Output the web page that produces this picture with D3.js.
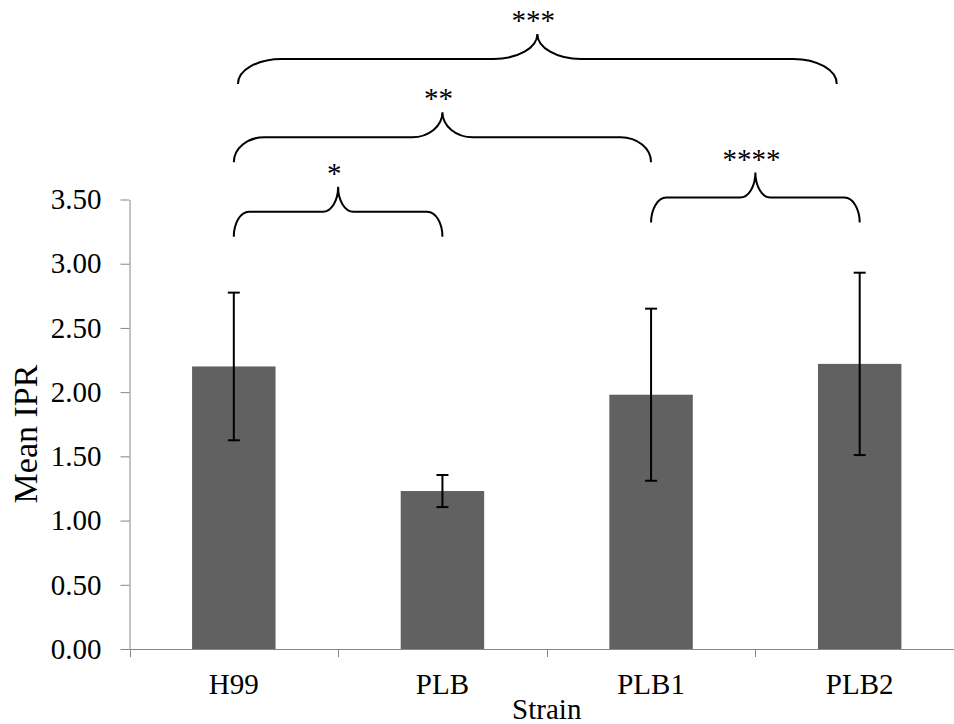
<!DOCTYPE html>
<html>
<head>
<meta charset="utf-8">
<script src="https://cdn.jsdelivr.net/npm/d3@7"></script>
<style>
	body { margin: 0; background: #fff; }
	svg { display: block; }
	svg text { font-family: 'Liberation Serif', 'Times New Roman', Times, Tinos, 'DejaVu Serif', serif; }
</style>
</head>
<body>
<svg id="chart" width="954" height="724"></svg>
<script>
// data
var strains = ['H99', 'PLB', 'PLB1', 'PLB2']
var meanIPR = [2.20, 1.23, 1.98, 2.22]
var errIPR = [0.575, 0.125, 0.67, 0.71]
var yTicks = [0, 0.5, 1, 1.5, 2, 2.5, 3, 3.5]

// significance braces: span in category index units, foot height in axis units
var braceSpans = [[0, 1], [0, 2], [0.02, 2.89], [2, 3]]
var braceFeet = [3.21, 3.79, 4.40, 3.32]
var braceLabels = ['*', '**', '***', '****']

var chart = {}
chart.axis_colour = '#868686'
chart.bar_colour = '#616161'
chart.left = 129.5
chart.bottom = 649
chart.top = 199.5

var svg = d3.select('#chart')

var x = d3.scaleBand()
	.domain(strains)
	.range([chart.left, 964])
	.paddingInner(0.6)
	.paddingOuter(0.3)

var y = d3.scaleLinear()
	.domain([0, 3.5])
	.range([chart.bottom, chart.top])

var rows = strains.map(function(s, i) {
	return {name: s, mean: meanIPR[i], err: errIPR[i]}
})

// bars
svg.append('g')
	.selectAll('rect')
	.data(rows)
	.enter()
	.append('rect')
	.attr('x', function(d) { return x(d.name) })
	.attr('y', function(d) { return y(d.mean) })
	.attr('width', x.bandwidth())
	.attr('height', function(d) { return y(0) - y(d.mean) })
	.attr('fill', chart.bar_colour)

// y axis
var yAxis = svg.append('g')
	.attr('transform', 'translate(' + chart.left + ',0)')
	.call(d3.axisLeft(y)
		.tickValues(yTicks)
		.tickFormat(d3.format('.2f'))
		.tickSize(9)
		.tickSizeOuter(0)
		.tickPadding(19))
yAxis.attr('font-family', null)
yAxis.select('.domain').attr('stroke', chart.axis_colour)
yAxis.selectAll('.tick line').attr('stroke', chart.axis_colour)
yAxis.selectAll('.tick text')
	.style('font-size', '29px')
	.attr('fill', '#000')

// x axis: labels at band centres, ticks on band edges
var xAxis = svg.append('g')
	.attr('transform', 'translate(0,' + chart.bottom + ')')
	.call(d3.axisBottom(x).tickSize(0).tickPadding(24))
xAxis.attr('font-family', null)
xAxis.select('.domain').remove()
xAxis.selectAll('.tick text')
	.style('font-size', '29px')
	.attr('fill', '#000')

svg.append('line')
	.attr('x1', chart.left)
	.attr('x2', 954)
	.attr('y1', chart.bottom + 0.5)
	.attr('y2', chart.bottom + 0.5)
	.attr('stroke', chart.axis_colour)

var edges = strains.map(function(s) {
	return x(s) - x.step() * x.paddingOuter()
})
svg.append('g')
	.selectAll('line')
	.data(edges)
	.enter()
	.append('line')
	.attr('x1', function(d) { return Math.round(d) + 0.5 })
	.attr('x2', function(d) { return Math.round(d) + 0.5 })
	.attr('y1', chart.bottom)
	.attr('y2', chart.bottom + 8)
	.attr('stroke', chart.axis_colour)

// error bars
var err = svg.append('g')
	.attr('stroke', '#000')
	.attr('stroke-width', 2)
	.attr('fill', 'none')
rows.forEach(function(d) {
	var cx = x(d.name) + x.bandwidth() / 2
	var hi = y(d.mean + d.err), lo = y(d.mean - d.err)
	err.append('line').attr('x1', cx).attr('x2', cx).attr('y1', hi).attr('y2', lo)
	err.append('line').attr('x1', cx - 6).attr('x2', cx + 6).attr('y1', hi).attr('y2', hi)
	err.append('line').attr('x1', cx - 6).attr('x2', cx + 6).attr('y1', lo).attr('y2', lo)
})

// axis titles
svg.append('text')
	.attr('x', (chart.left + 964) / 2)
	.attr('y', 719)
	.attr('text-anchor', 'middle')
	.style('font-size', '29px')
	.text('Strain')

svg.append('text')
	.attr('transform', 'translate(37,434) rotate(-90)')
	.attr('text-anchor', 'middle')
	.style('font-size', '34px')
	.text('Mean IPR')

// braces
var xi = d3.scaleLinear()
	.domain([0, strains.length - 1])
	.range([x(strains[0]) + x.bandwidth() / 2, x(strains[strains.length - 1]) + x.bandwidth() / 2])

var braceHeight = 25
var braces = svg.append('g')
braceSpans.forEach(function(span, i) {
	var x0 = xi(span[0]), x1 = xi(span[1])
	var xm = (x0 + x1) / 2
	var yb = y(braceFeet[i]), yh = yb - braceHeight, yt = yh - braceHeight
	var r = (x1 - x0) * 0.073
	var h = braceHeight
	var path = 'M' + x0 + ',' + yb +
		'A' + r + ',' + h + ' 0 0 1 ' + (x0 + r) + ',' + yh +
		'L' + (xm - r) + ',' + yh +
		'A' + r + ',' + h + ' 0 0 0 ' + xm + ',' + yt +
		'A' + r + ',' + h + ' 0 0 0 ' + (xm + r) + ',' + yh +
		'L' + (x1 - r) + ',' + yh +
		'A' + r + ',' + h + ' 0 0 1 ' + x1 + ',' + yb
	braces.append('path')
		.attr('d', path)
		.attr('fill', 'none')
		.attr('stroke', '#000')
		.attr('stroke-width', 2)
	braces.append('text')
		.attr('x', xm - 4)
		.attr('y', yt - 4)
		.attr('text-anchor', 'middle')
		.style('font-size', '29px')
		.text(braceLabels[i])
})
</script>
</body>
</html>
